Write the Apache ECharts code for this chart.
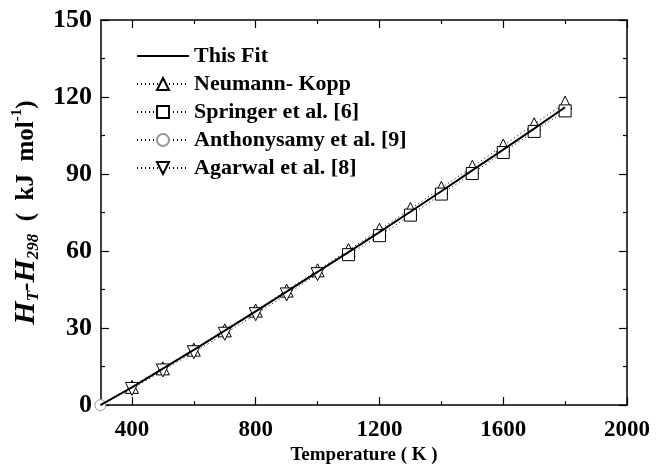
<!DOCTYPE html>
<html>
<head>
<meta charset="utf-8">
<script src="https://cdn.jsdelivr.net/npm/echarts@6/dist/echarts.min.js"></script>
<style>html,body{margin:0;padding:0;background:#fff}#c{width:666px;height:470px}</style>
</head>
<body>
<div id="c"></div>
<script>
// ---- data ----
const fitT = [298, 400, 500, 600, 700, 800, 900, 1000, 1100, 1200, 1300, 1400, 1500, 1600, 1700, 1800];
const fitH = [0, 6.9, 14.2, 21.5, 29.0, 36.5, 44.2, 51.9, 59.6, 67.4, 75.3, 83.3, 91.4, 99.5, 107.7, 116.0];
const nkT = [400, 500, 600, 700, 800, 900, 1000, 1100, 1200, 1300, 1400, 1500, 1600, 1700, 1800];
const nkH = [7.1, 14.3, 21.6, 29.1, 36.8, 44.6, 52.5, 60.4, 68.3, 76.4, 84.6, 92.8, 101.1, 109.4, 117.8];
const springerT = [1100, 1200, 1300, 1400, 1500, 1600, 1700, 1800];
const springerH = [58.6, 66.0, 74.0, 82.2, 90.2, 98.4, 106.6, 114.6];
const anthonyT = [298];
const anthonyH = [0];
const agarwalT = [400, 500, 600, 700, 800, 900, 1000];
const agarwalH = [6.3, 13.5, 20.6, 27.8, 35.4, 43.1, 51.0];
const xMajorTicks = [400, 800, 1200, 1600, 2000];
const xMinorTicks = [600, 1000, 1400, 1800];
const seriesNames = ['This Fit', 'Neumann- Kopp', 'Springer et al. [6]', 'Anthonysamy et al. [9]', 'Agarwal et al. [8]'];

const pairs = (xs, ys) => xs.map((x, i) => [x, ys[i]]);
const FONT = 'Liberation Serif';
const black = '#000';

function xAxisDef(pos, ticks, len, showLine, showLabel) {
  return {
    type: 'value', min: 300, max: 2000, position: pos,
    axisLine: { show: showLine, lineStyle: { color: black, width: 1.5 } },
    axisTick: { show: true, inside: true, length: len, customValues: ticks, lineStyle: { color: black, width: 1.2 } },
    axisLabel: { show: showLabel, customValues: ticks, margin: 13, color: black, fontFamily: FONT, fontWeight: 'bold', fontSize: 23,
      formatter: v => String(v) },
    splitLine: { show: false }
  };
}

const chart = echarts.init(document.getElementById('c'), null, { renderer: 'canvas' });
const symStyle = { color: '#fff', borderColor: black, borderWidth: 1 };
const dotted = { color: black, width: 1, type: [1, 3] };

const xAxes = [
  Object.assign(xAxisDef('bottom', xMajorTicks, 8, true, true), {
    name: 'Temperature ( K )', nameLocation: 'middle', nameGap: 38,
    nameTextStyle: { color: black, fontFamily: FONT, fontWeight: 'bold', fontSize: 19 }
  }),
  xAxisDef('bottom', xMinorTicks, 4, false, false),
  xAxisDef('top', xMajorTicks, 8, true, false),
  xAxisDef('top', xMinorTicks, 4, false, false)
];

function yAxisDef(pos, showLabel) {
  return {
    type: 'value', min: 0, max: 150, interval: 30, position: pos,
    axisLine: { show: true, lineStyle: { color: black, width: 1.5 } },
    axisTick: { show: true, inside: true, length: 8, lineStyle: { color: black, width: 1.2 } },
    minorTick: { show: true, splitNumber: 2, length: 4, lineStyle: { color: black, width: 1.2 } },
    axisLabel: { show: showLabel, margin: 9, color: black, fontFamily: FONT, fontWeight: 'bold', fontSize: 26 },
    splitLine: { show: false }
  };
}
const yAxes = [
  Object.assign(yAxisDef('left', true), {
    name: '{i|H}{sub|T}{n|-}{i|H}{sub|298}{n|  (  kJ  mol}{sup|-1}{n|)}',
    nameLocation: 'middle', nameGap: 54, nameRotate: 90,
    nameTextStyle: {
      color: black, fontFamily: FONT, fontWeight: 'bold', fontSize: 25,
      rich: {
        i: { fontFamily: FONT, fontWeight: 'bold', fontStyle: 'italic', fontSize: 30, lineHeight: 32, color: black },
        n: { fontFamily: FONT, fontWeight: 'bold', fontSize: 25, lineHeight: 32, color: black },
        sub: { fontFamily: FONT, fontWeight: 'bold', fontStyle: 'italic', fontSize: 17, lineHeight: 15, verticalAlign: 'bottom', color: black },
        sup: { fontFamily: FONT, fontWeight: 'bold', fontSize: 15, lineHeight: 18, verticalAlign: 'top', color: black }
      }
    }
  }),
  yAxisDef('right', false)
];

chart.setOption({
  backgroundColor: '#fff',
  animation: false,
  grid: { left: 101, right: 39, top: 20, bottom: 62, containLabel: false },
  legend: {
    orient: 'vertical', left: 136, top: 45, padding: 0,
    itemWidth: 52, itemHeight: 15, itemGap: 6,
    data: seriesNames,
    textStyle: { color: black, fontFamily: FONT, fontWeight: 'bold', fontSize: 22, lineHeight: 20 },
    inactiveColor: '#ccc'
  },
  xAxis: xAxes,
  yAxis: yAxes,
  series: [
    { name: seriesNames[0], type: 'line', data: pairs(fitT, fitH), symbol: 'circle', showSymbol: false, z: 5,
      lineStyle: { color: black, width: 2 }, itemStyle: { color: 'rgba(0,0,0,0)', borderWidth: 0 } },
    { name: seriesNames[1], type: 'line', data: pairs(nkT, nkH), symbol: 'triangle', symbolSize: 13, z: 3,
      lineStyle: dotted, itemStyle: symStyle },
    { name: seriesNames[2], type: 'line', data: pairs(springerT, springerH), symbol: 'rect', symbolSize: 12, z: 3,
      lineStyle: dotted, itemStyle: symStyle },
    { name: seriesNames[3], type: 'line', data: pairs(anthonyT, anthonyH), symbol: 'circle', symbolSize: 11, z: 3, clip: false,
      lineStyle: dotted, itemStyle: { color: '#fff', borderColor: '#999', borderWidth: 1 } },
    { name: seriesNames[4], type: 'line', data: pairs(agarwalT, agarwalH), symbol: 'triangle', symbolRotate: 180, symbolSize: 13, z: 3,
      lineStyle: dotted, itemStyle: symStyle }
  ]
});
</script>
</body>
</html>
